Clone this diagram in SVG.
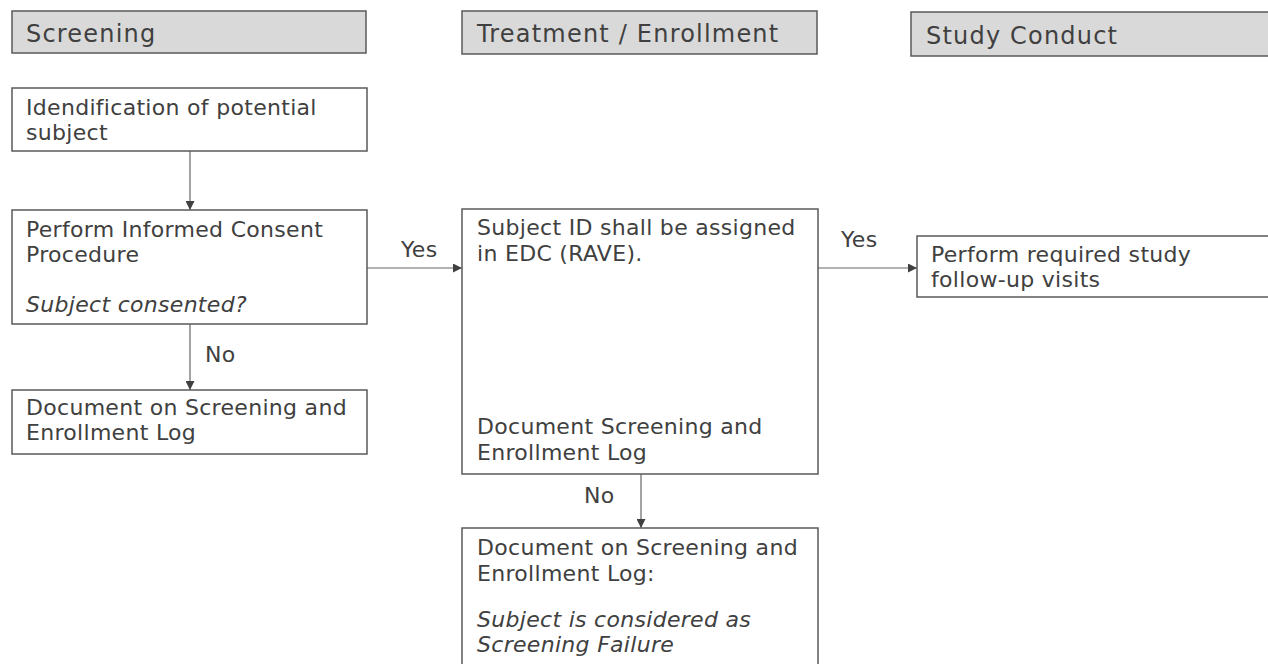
<svg xmlns="http://www.w3.org/2000/svg" width="1268" height="664" viewBox="0 0 1268 664">
<style>
.hdr{fill:#d9d9d9;stroke:#595959;stroke-width:1.5}
.box{fill:#fff;stroke:#595959;stroke-width:1.5}
.t{font-family:"DejaVu Sans",Verdana,sans-serif;font-size:22px;letter-spacing:0.3px;fill:#404040}
.h{font-family:"DejaVu Sans",Verdana,sans-serif;font-size:24px;letter-spacing:1.2px;fill:#404040}
.i{font-style:italic}
.c{stroke:#666;stroke-width:1.2;fill:none;marker-end:url(#ah)}
</style>
<defs>
<marker id="ah" viewBox="0 0 10 10" refX="10" refY="5" markerWidth="9" markerHeight="9" markerUnits="userSpaceOnUse" orient="auto">
<path d="M0,0 L10,5 L0,10 z" fill="#404040"/>
</marker>
</defs>
<rect width="1268" height="664" fill="#fff"/>
<g id="hdr-screening"><rect class="hdr" x="12" y="11" width="354" height="42"/><text class="h" x="26" y="42">Screening</text></g>
<g id="hdr-treatment"><rect class="hdr" x="462" y="11" width="355" height="43"/><text class="h" x="477" y="42">Treatment / Enrollment</text></g>
<g id="hdr-study"><rect class="hdr" x="911" y="12" width="362" height="44"/><text class="h" x="926" y="44">Study Conduct</text></g>
<g id="connectors">
<line class="c" x1="190" y1="151" x2="190" y2="210"/>
<line class="c" x1="190" y1="324" x2="190" y2="390"/>
<line class="c" x1="367" y1="268" x2="462" y2="268"/>
<line class="c" x1="818" y1="268" x2="917" y2="268"/>
<line class="c" x1="641" y1="474" x2="641" y2="528"/>
<text class="t" x="205" y="362">No</text>
<text class="t" x="401" y="257">Yes</text>
<text class="t" x="841" y="247">Yes</text>
<text class="t" x="584" y="503">No</text>
</g>
<g id="n1"><rect class="box" x="12" y="88" width="355" height="63"/><text class="t" x="26" y="115">Idendification of potential</text><text class="t" x="26" y="140">subject</text></g>
<g id="n2"><rect class="box" x="12" y="210" width="355" height="114"/><text class="t" x="26" y="237">Perform Informed Consent</text><text class="t" x="26" y="262">Procedure</text><text class="t i" x="26" y="312">Subject consented?</text></g>
<g id="n3"><rect class="box" x="12" y="390" width="355" height="64"/><text class="t" x="26" y="415">Document on Screening and</text><text class="t" x="26" y="440">Enrollment Log</text></g>
<g id="n4"><rect class="box" x="462" y="209" width="356" height="265"/><text class="t" x="477" y="235">Subject ID shall be assigned</text><text class="t" x="477" y="261">in EDC (RAVE).</text><text class="t" x="477" y="434">Document Screening and</text><text class="t" x="477" y="460">Enrollment Log</text></g>
<g id="n5"><rect class="box" x="917" y="236" width="356" height="61"/><text class="t" x="931" y="262">Perform required study</text><text class="t" x="931" y="287">follow-up visits</text></g>
<g id="n6"><rect class="box" x="462" y="528" width="356" height="140"/><text class="t" x="477" y="555">Document on Screening and</text><text class="t" x="477" y="581">Enrollment Log:</text><text class="t i" x="477" y="627">Subject is considered as</text><text class="t i" x="477" y="652">Screening Failure</text></g>
</svg>
